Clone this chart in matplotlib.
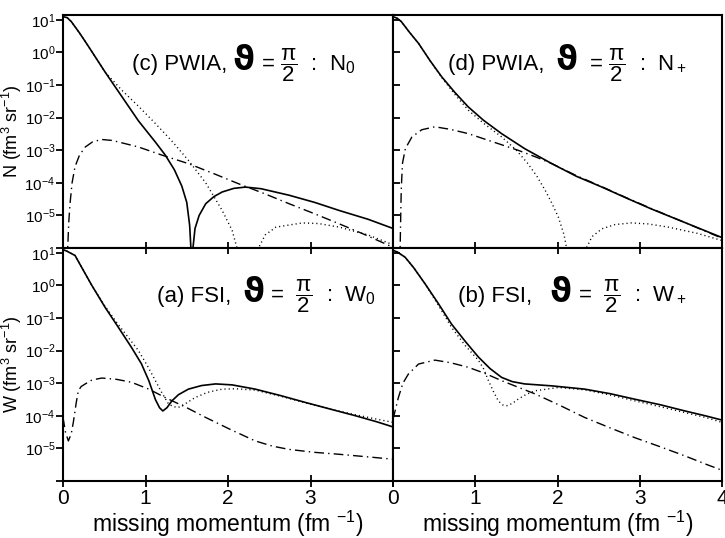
import numpy as np
import matplotlib
matplotlib.use("Agg")
import matplotlib.pyplot as plt

plt.rcParams['font.family'] = ['Liberation Sans', 'DejaVu Sans']
plt.rcParams['mathtext.fontset'] = 'custom'
plt.rcParams['mathtext.rm'] = 'Liberation Sans'
plt.rcParams['mathtext.it'] = 'Liberation Sans'
plt.rcParams['mathtext.bf'] = 'Liberation Sans:bold'
plt.rcParams['mathtext.sf'] = 'Liberation Sans'
plt.rcParams['mathtext.default'] = 'regular'

# x = missing momentum (fm^-1), values are log10 of the curves
# (c) PWIA N0
c_solid_x = [0, 0.05, 0.1, 0.2, 0.3, 0.51, 0.915, 1.12, 1.24, 1.35, 1.44, 1.5, 1.535, 1.55, 1.56,
             1.575, 1.6, 1.65, 1.73, 1.83, 1.93, 2.07, 2.21, 2.4, 2.74, 3.05, 3.35, 3.7, 4.0]
c_solid_y = [1.1, 1.07, 0.95, 0.6, 0.22, -0.6, -2.1, -2.75, -3.15, -3.6, -4.1, -4.6, -5.3, -6.0, -7.5,
             -6.0, -5.4, -5.0, -4.64, -4.42, -4.28, -4.17, -4.13, -4.18, -4.38, -4.6, -4.85, -5.12, -5.4]
c_dot_x = [0, 0.05, 0.1, 0.2, 0.3, 0.51, 0.71, 0.915, 1.12, 1.32, 1.52, 1.73, 1.93, 2.05, 2.12, 2.16,
           2.33, 2.37, 2.45, 2.58, 2.9, 3.1, 3.35, 3.7, 4.0]
c_dot_y = [1.1, 1.07, 0.95, 0.6, 0.22, -0.6, -1.15, -1.65, -2.18, -2.72, -3.31, -4.0, -4.85, -5.46, -6.1, -7,
           -7, -6.0, -5.6, -5.36, -5.23, -5.25, -5.36, -5.6, -5.9]
c_dd_x = [0.04, 0.057, 0.07, 0.085, 0.11, 0.146, 0.2, 0.27, 0.36, 0.47, 0.6, 0.915, 1.2, 1.52, 1.83,
          2.13, 2.44, 2.74, 3.05, 3.35, 3.65, 3.95, 4.0]
c_dd_y = [-7, -6.0, -5.2, -4.64, -4.0, -3.5, -3.15, -2.9, -2.74, -2.67, -2.7, -2.9, -3.15, -3.41, -3.72,
          -4.03, -4.33, -4.64, -4.95, -5.26, -5.58, -5.92, -5.97]

# (d) PWIA N+
d_solid_x = [0, 0.05, 0.1, 0.2, 0.31, 0.45, 0.59, 0.75, 0.915, 1.1, 1.32, 1.6, 1.93, 2.23, 2.54, 2.84,
             3.14, 3.55, 4.0]
d_solid_y = [1.1, 1.05, 0.95, 0.62, 0.28, -0.25, -0.74, -1.22, -1.67, -2.08, -2.49, -2.95, -3.41, -3.8,
             -4.13, -4.47, -4.8, -5.22, -5.68]
d_dot_x = [0, 0.05, 0.1, 0.2, 0.31, 0.45, 0.59, 0.75, 0.915, 1.1, 1.32, 1.5, 1.64, 1.75, 1.85, 1.93, 2.01,
           2.08, 2.11, 2.14, 2.31, 2.35, 2.42, 2.54, 2.7, 2.9, 3.1, 3.35, 3.7, 4.0]
d_dot_y = [1.1, 1.05, 0.95, 0.62, 0.28, -0.25, -0.76, -1.28, -1.77, -2.17, -2.59, -3.0, -3.41, -3.8, -4.23,
           -4.62, -5.05, -5.6, -6.0, -7, -7, -6.0, -5.65, -5.41, -5.28, -5.23, -5.26, -5.36, -5.55, -5.77]
d_dd_x = [0.08, 0.09, 0.1, 0.115, 0.15, 0.23, 0.35, 0.51, 0.7, 0.915, 1.2, 1.52, 1.75, 1.93, 2.23, 2.54,
          2.84, 3.14, 3.55, 4.0]
d_dd_y = [-7, -5.5, -4.2, -3.4, -2.95, -2.59, -2.37, -2.28, -2.36, -2.49, -2.73, -3.0, -3.22, -3.41, -3.78,
          -4.12, -4.46, -4.79, -5.22, -5.7]

# (a) FSI W0
a_solid_x = [0, 0.05, 0.146, 0.25, 0.35, 0.51, 0.67, 0.83, 0.95, 1.04, 1.12, 1.17, 1.21, 1.26, 1.32, 1.4,
             1.52, 1.68, 1.85, 2.05, 2.33, 2.64, 2.94, 3.25, 3.55, 3.8, 4.0]
a_solid_y = [1.1, 1.05, 0.92, 0.45, 0.0, -0.67, -1.28, -1.9, -2.4, -2.92, -3.5, -3.75, -3.85, -3.75, -3.54,
             -3.35, -3.18, -3.07, -3.02, -3.05, -3.18, -3.38, -3.59, -3.8, -4.0, -4.18, -4.34]
a_dot_x = [0, 0.05, 0.146, 0.25, 0.35, 0.51, 0.67, 0.83, 0.915, 1.02, 1.12, 1.2, 1.28, 1.34, 1.4, 1.5, 1.6,
           1.75, 1.93, 2.1, 2.33, 2.64, 2.94, 3.25, 3.55, 3.8, 4.0]
a_dot_y = [1.1, 1.05, 0.92, 0.45, 0.0, -0.64, -1.2, -1.72, -2.0, -2.45, -2.92, -3.3, -3.64, -3.72, -3.74,
           -3.6, -3.44, -3.28, -3.18, -3.17, -3.21, -3.4, -3.6, -3.8, -3.97, -4.1, -4.2]
a_dd_x = [0, 0.03, 0.065, 0.1, 0.125, 0.16, 0.186, 0.22, 0.27, 0.35, 0.47, 0.65, 0.83, 1.04, 1.24, 1.5,
          1.73, 2.03, 2.33, 2.54, 2.74, 3.05, 3.35, 3.7, 4.0]
a_dd_y = [-4.05, -4.5, -4.77, -4.55, -4.2, -3.6, -3.23, -3.1, -3.02, -2.9, -2.84, -2.88, -2.97, -3.18,
          -3.44, -3.75, -4.05, -4.42, -4.77, -4.93, -5.03, -5.12, -5.18, -5.26, -5.33]

# (b) FSI W+
b_solid_x = [0, 0.05, 0.146, 0.25, 0.39, 0.55, 0.71, 0.88, 1.04, 1.18, 1.32, 1.45, 1.6, 1.93, 2.33, 2.64,
             2.94, 3.25, 3.55, 3.8, 4.0]
b_solid_y = [1.08, 1.03, 0.87, 0.55, 0.05, -0.55, -1.18, -1.72, -2.2, -2.55, -2.82, -2.95, -3.02, -3.08,
             -3.18, -3.32, -3.49, -3.66, -3.85, -4.0, -4.13]
b_dot_x = [0, 0.05, 0.146, 0.25, 0.39, 0.55, 0.71, 0.88, 1.04, 1.1, 1.16, 1.22, 1.28, 1.33, 1.38, 1.45,
           1.52, 1.62, 1.73, 2.01, 2.33, 2.64, 2.94, 3.25, 3.55, 3.8, 4.0]
b_dot_y = [1.08, 1.03, 0.87, 0.55, 0.05, -0.6, -1.28, -1.85, -2.3, -2.55, -2.92, -3.25, -3.54, -3.66, -3.69,
           -3.62, -3.49, -3.34, -3.23, -3.13, -3.2, -3.36, -3.54, -3.72, -3.9, -4.05, -4.2]
b_dd_x = [0, 0.03, 0.065, 0.12, 0.186, 0.31, 0.51, 0.7, 0.915, 1.12, 1.32, 1.52, 1.73, 2.03, 2.33, 2.64,
          2.94, 3.25, 3.55, 3.8, 4.0]
b_dd_y = [-4.1, -3.8, -3.44, -3.0, -2.72, -2.41, -2.29, -2.37, -2.51, -2.7, -2.92, -3.12, -3.33, -3.68,
          -4.05, -4.37, -4.67, -4.95, -5.23, -5.48, -5.67]

# panel label pieces: before theta, after theta
panels = [
    ('c', [0.0869, 0.5390, 0.4552, 0.4331], c_solid_x, c_solid_y, c_dot_x, c_dot_y, c_dd_x, c_dd_y,
     '(c) PWIA,', r' = $\dfrac{\pi}{2}$  :  N$_0$', 0.21, 0.765),
    ('d', [0.5421, 0.5390, 0.4538, 0.4331], d_solid_x, d_solid_y, d_dot_x, d_dot_y, d_dd_x, d_dd_y,
     '(d) PWIA, ', r'  = $\dfrac{\pi}{2}$  :  N$_+$', 0.167, 0.765),
    ('a', [0.0869, 0.1059, 0.4552, 0.4331], a_solid_x, a_solid_y, a_dot_x, a_dot_y, a_dd_x, a_dd_y,
     '(a) FSI, ', r' =  $\dfrac{\pi}{2}$  :  W$_0$', 0.284, 0.77),
    ('b', [0.5421, 0.1059, 0.4538, 0.4331], b_solid_x, b_solid_y, b_dot_x, b_dot_y, b_dd_x, b_dd_y,
     '(b) FSI,  ', r' =  $\dfrac{\pi}{2}$  :  W$_+$', 0.198, 0.77),
]

ytick_vals = [10.0**k for k in range(1, -7, -1)]
ytick_labels = ['$10^{%d}$' % k for k in range(1, -6, -1)] + ['']

fig = plt.figure(figsize=(7.25, 5.38), dpi=100)
renderer = fig.canvas.get_renderer()

for name, rect, sx, sy, dx, dy, ddx, ddy, pre, post, tx, ty in panels:
    ax = fig.add_axes(rect)
    ax.set_yscale('log')
    ax.plot(sx, 10.0**np.array(sy), color='black', lw=1.2)
    ax.plot(dx, 10.0**np.array(dy), color='black', lw=1.0, linestyle=(0, (0.8, 2.2)))
    ax.plot(ddx, 10.0**np.array(ddy), color='black', lw=1.0, linestyle=(0, (7, 3, 1, 3)))
    ax.set_xlim(0, 4)
    ax.set_ylim(1e-6, 10**1.15)
    ax.minorticks_off()
    ax.set_yticks(ytick_vals)
    for s in ax.spines.values():
        s.set_linewidth(1.5)

    # label: text, big bold theta, rest of the text, laid side by side on one baseline
    t1 = ax.text(tx, ty, pre, transform=ax.transAxes, fontsize=16, va='baseline', ha='left')
    x1 = ax.transAxes.inverted().transform((t1.get_window_extent(renderer).x1 + 5, 0))[0]
    t2 = ax.text(x1, ty, '\u03d1', transform=ax.transAxes, fontsize=24, fontweight='bold',
                 family='DejaVu Sans', va='baseline', ha='left')
    x2 = ax.transAxes.inverted().transform((t2.get_window_extent(renderer).x1, 0))[0]
    ax.text(x2, ty, post, transform=ax.transAxes, fontsize=16, va='baseline', ha='left')

    left = name in ('c', 'a')
    bottom = name in ('a', 'b')
    if left:
        ax.set_yticklabels(ytick_labels, fontsize=11)
        ax.tick_params(axis='y', direction='out', length=5, width=1.3, left=True, right=False, pad=0.5)
        ax.set_ylabel('N (fm$^3$ sr$^{-1}$)' if name == 'c' else 'W (fm$^3$ sr$^{-1}$)',
                      fontsize=13)
        ax.yaxis.set_label_coords(-0.118, 0.5)
    else:
        ax.set_yticklabels([])
        ax.tick_params(axis='y', direction='in', length=5, width=1.3, left=True, right=False)

    if bottom:
        ax.set_xticks([0, 1, 2, 3, 4])
        if left:
            ax.set_xticklabels(['0', '1', '2', '3', ''], fontsize=15)
        else:
            ax.set_xticklabels(['0', '1', '2', '3', '4'], fontsize=15)
        ax.tick_params(axis='x', direction='inout', length=8, width=1.3, top=True, pad=2)
        ax.set_xlabel('missing momentum (fm $^{-1}$)', fontsize=16.5, labelpad=0)
    else:
        ax.set_xticks([0, 1, 2, 3, 4])
        ax.set_xticklabels([])
        ax.tick_params(axis='x', length=0)

fig.savefig('out.png', dpi=100)
